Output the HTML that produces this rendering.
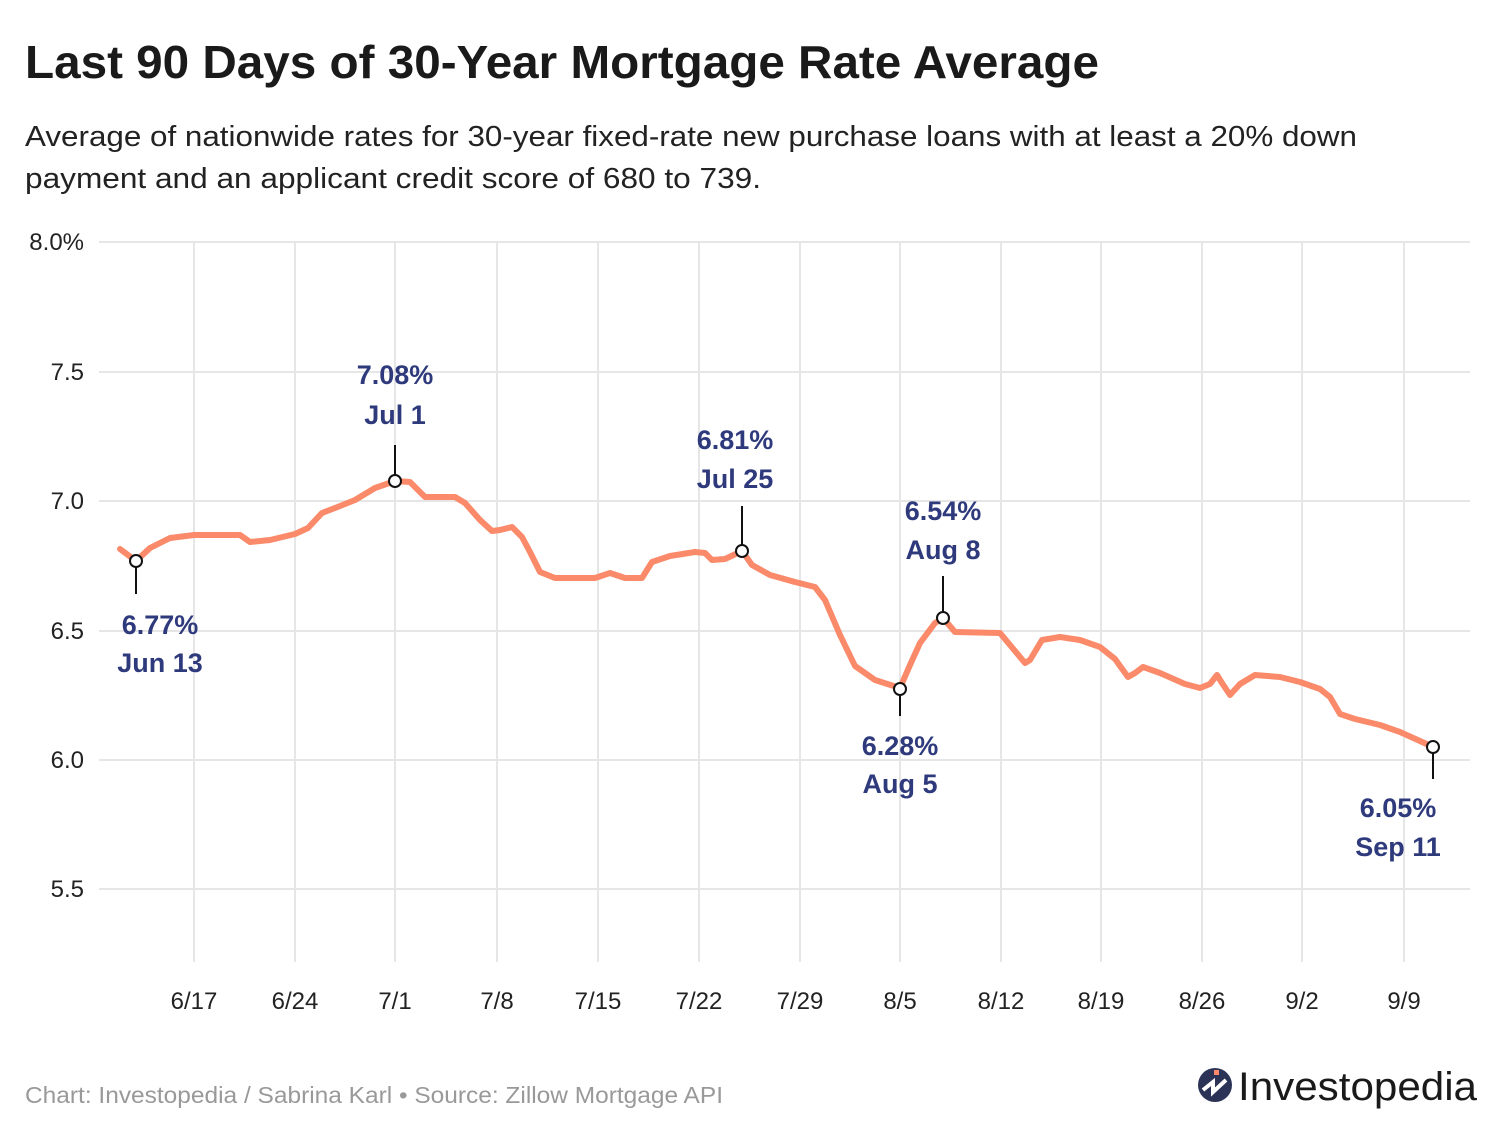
<!DOCTYPE html><html><head><meta charset="utf-8"><style>
body{margin:0;background:#fff;width:1500px;height:1142px;overflow:hidden;font-family:"Liberation Sans",sans-serif}
</style></head><body>
<svg width="1500" height="1142" xmlns="http://www.w3.org/2000/svg" font-family="Liberation Sans, sans-serif">
<text x="25" y="78" font-size="46" font-weight="bold" fill="#1a1a1a" textLength="1074" lengthAdjust="spacingAndGlyphs">Last 90 Days of 30-Year Mortgage Rate Average</text>
<text x="25" y="146" font-size="29" fill="#222" textLength="1332" lengthAdjust="spacingAndGlyphs">Average of nationwide rates for 30-year fixed-rate new purchase loans with at least a 20% down</text>
<text x="25" y="188" font-size="29" fill="#222" textLength="736" lengthAdjust="spacingAndGlyphs">payment and an applicant credit score of 680 to 739.</text>
<g stroke="#e6e6e6" stroke-width="2">
<line x1="99" x2="1470" y1="242" y2="242"/><line x1="99" x2="1470" y1="372" y2="372"/><line x1="99" x2="1470" y1="501" y2="501"/><line x1="99" x2="1470" y1="631" y2="631"/><line x1="99" x2="1470" y1="760" y2="760"/><line x1="99" x2="1470" y1="889" y2="889"/>
<line x1="194" x2="194" y1="242" y2="962"/><line x1="295" x2="295" y1="242" y2="962"/><line x1="395" x2="395" y1="242" y2="962"/><line x1="497" x2="497" y1="242" y2="962"/><line x1="598" x2="598" y1="242" y2="962"/><line x1="699" x2="699" y1="242" y2="962"/><line x1="800" x2="800" y1="242" y2="962"/><line x1="900" x2="900" y1="242" y2="962"/><line x1="1001" x2="1001" y1="242" y2="962"/><line x1="1101" x2="1101" y1="242" y2="962"/><line x1="1202" x2="1202" y1="242" y2="962"/><line x1="1302" x2="1302" y1="242" y2="962"/><line x1="1404" x2="1404" y1="242" y2="962"/>
</g>
<g font-size="24" fill="#222" text-anchor="end">
<text x="84" y="250">8.0%</text><text x="84" y="380">7.5</text><text x="84" y="509">7.0</text><text x="84" y="639">6.5</text><text x="84" y="768">6.0</text><text x="84" y="897">5.5</text>
</g>
<g font-size="24" fill="#222" text-anchor="middle">
<text x="194" y="1009">6/17</text><text x="295" y="1009">6/24</text><text x="395" y="1009">7/1</text><text x="497" y="1009">7/8</text><text x="598" y="1009">7/15</text><text x="699" y="1009">7/22</text><text x="800" y="1009">7/29</text><text x="900" y="1009">8/5</text><text x="1001" y="1009">8/12</text><text x="1101" y="1009">8/19</text><text x="1202" y="1009">8/26</text><text x="1302" y="1009">9/2</text><text x="1404" y="1009">9/9</text>
</g>
<polyline fill="none" stroke="#fa8a6a" stroke-width="6" stroke-linejoin="round" stroke-linecap="round" points="120,549 136,561 150,548 170,538 194,535 240,535 250,542 270,540 295,534 308,528 322,513 335,508 355,500 375,488 395,481 410,482 425,497 455,497 465,503 480,520 492,531 500,530 512,527 522,537 530,552 540,572 555,578 595,578 610,573 625,578 642,578 652,562 670,556 695,552 705,553 712,560 725,559 742,551 752,565 770,575 795,582 815,587 825,600 840,635 855,666 875,680 900,688 910,665 920,643 935,623 943,618 955,632 1000,633 1010,645 1025,663 1030,660 1042,640 1060,637 1080,640 1100,647 1115,659 1128,677 1135,673 1143,667 1160,673 1185,684 1200,688 1210,684 1217,675 1222,683 1230,695 1240,684 1255,675 1280,677 1300,682 1320,689 1330,697 1340,714 1355,719 1380,725 1400,732 1420,741 1433,747"/>
<g stroke="#111" stroke-width="2">
<line x1="136" x2="136" y1="561" y2="594"/><line x1="395" x2="395" y1="481" y2="445"/><line x1="742" x2="742" y1="551" y2="506"/><line x1="900" x2="900" y1="689" y2="716"/><line x1="943" x2="943" y1="618" y2="576"/><line x1="1433" x2="1433" y1="747" y2="779"/>
</g>
<g fill="#fff" stroke="#111" stroke-width="2">
<circle cx="136" cy="561" r="6"/><circle cx="395" cy="481" r="6"/><circle cx="742" cy="551" r="6"/><circle cx="900" cy="689" r="6"/><circle cx="943" cy="618" r="6"/><circle cx="1433" cy="747" r="6"/>
</g>
<g font-size="27" font-weight="bold" fill="#2e3a7c" text-anchor="middle">
<text x="160" y="634">6.77%</text><text x="160" y="672">Jun 13</text>
<text x="395" y="384">7.08%</text><text x="395" y="424">Jul 1</text>
<text x="735" y="449">6.81%</text><text x="735" y="488">Jul 25</text>
<text x="900" y="755">6.28%</text><text x="900" y="793">Aug 5</text>
<text x="943" y="520">6.54%</text><text x="943" y="559">Aug 8</text>
<text x="1398" y="817">6.05%</text><text x="1398" y="856">Sep 11</text>
</g>
<text x="25" y="1103" font-size="23" fill="#999" textLength="698" lengthAdjust="spacingAndGlyphs">Chart: Investopedia / Sabrina Karl • Source: Zillow Mortgage API</text>
<circle cx="1215" cy="1085" r="17" fill="#2b3456"/>
<path d="M1203,1090 L1213,1082 L1213,1092 L1226,1080" stroke="#fff" stroke-width="4" fill="none"/>
<rect x="1214" y="1070" width="5" height="5" fill="#fa8a6a"/>
<text x="1238" y="1100" font-size="40" fill="#1a1a1a" textLength="239" lengthAdjust="spacingAndGlyphs">Investopedia</text>
</svg>
</body></html>
